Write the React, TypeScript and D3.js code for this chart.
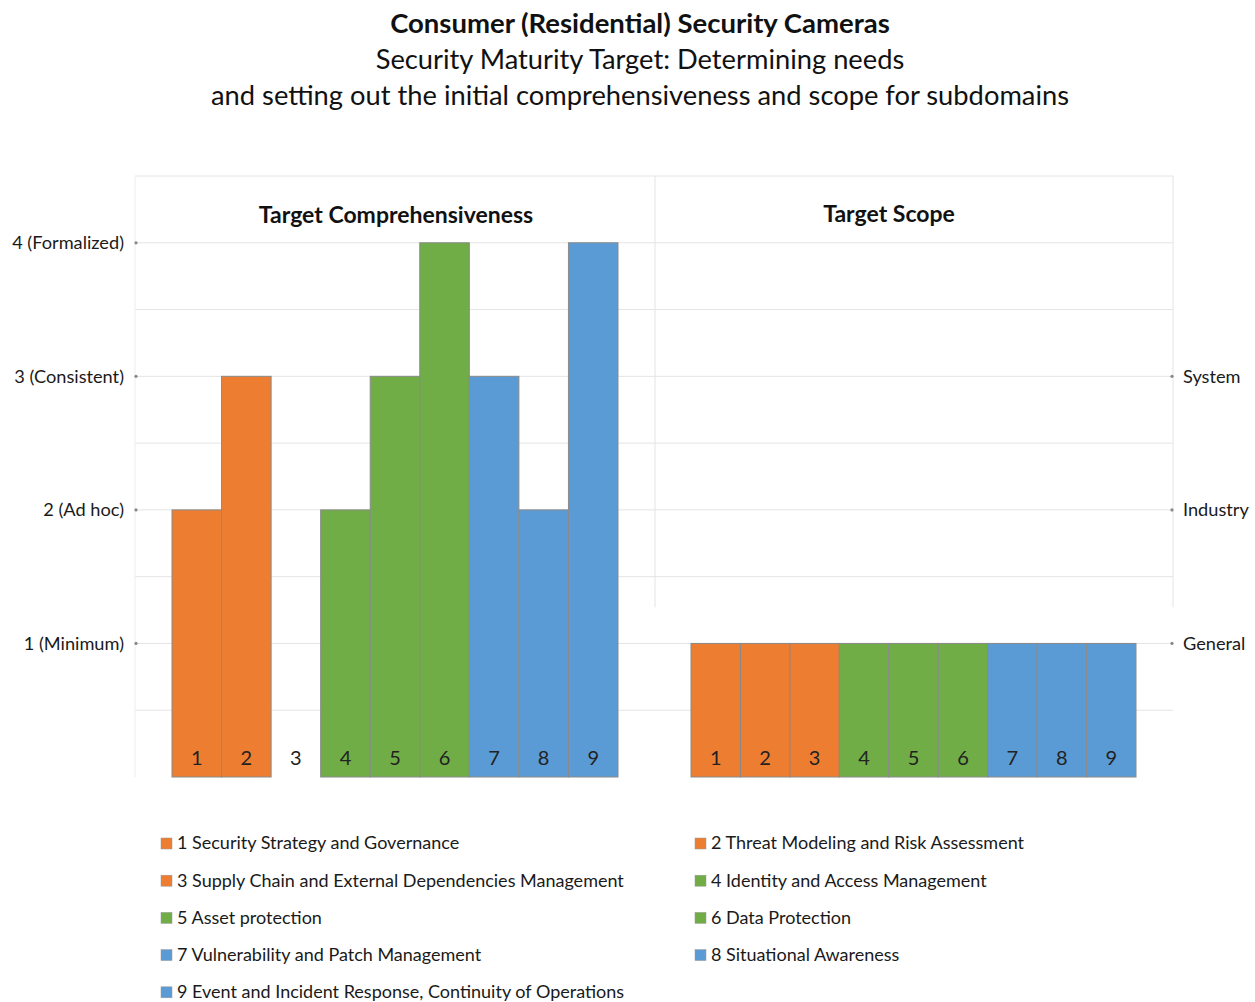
import React, { useEffect } from 'react';
import * as d3 from 'd3';

const subdomains = ['1', '2', '3', '4', '5', '6', '7', '8', '9'];
const subdomainNames = [
  '1 Security Strategy and Governance',
  '2 Threat Modeling and Risk Assessment',
  '3 Supply Chain and External Dependencies Management',
  '4 Identity and Access Management',
  '5 Asset protection',
  '6 Data Protection',
  '7 Vulnerability and Patch Management',
  '8 Situational Awareness',
  '9 Event and Incident Response, Continuity of Operations',
];
const comprehensiveness = [2, 3, 0, 2, 3, 4, 3, 2, 4];
const scope = [1, 1, 1, 1, 1, 1, 1, 1, 1];
const comprehensivenessLevels = ['1 (Minimum)', '2 (Ad hoc)', '3 (Consistent)', '4 (Formalized)'];
const scopeLevels = ['General', 'Industry', 'System'];
const gridSteps = [0.5, 1, 1.5, 2, 2.5, 3, 3.5, 4, 4.5];

const FONT = 'Lato, "Open Sans", sans-serif';
const ORANGE = '#ED7D31';
const GREEN = '#70AD47';
const BLUE = '#5B9BD5';

const colorFor = (i: number) => (i < 3 ? ORANGE : i < 6 ? GREEN : BLUE);

export default function App() {
  useEffect(() => {
    document.body.style.margin = '0';
  }, []);

  const width = 1255;
  const height = 1002;
  const y = d3.scaleLinear().domain([0, 4.5]).range([777, 176]);
  const xLeft = d3.scaleBand<string>().domain(subdomains).range([172, 618]);
  const xRight = d3.scaleBand<string>().domain(subdomains).range([691, 1136]);

  const panelLeft = { x0: 135, x1: 655 };
  const panelRight = { x0: 655, x1: 1173 };

  return (
    <svg width={width} height={height} style={{ display: 'block', background: '#fff' }} fontFamily={FONT}>
      {/* titles */}
      <text x={640} y={33} textAnchor="middle" fontSize={27.5} fontWeight="bold" fill="#111">
        Consumer (Residential) Security Cameras
      </text>
      <text x={640} y={69} textAnchor="middle" fontSize={27.3} fill="#111">
        Security Maturity Target: Determining needs
      </text>
      <text x={640} y={105} textAnchor="middle" fontSize={27.3} fill="#111">
        and setting out the initial comprehensiveness and scope for subdomains
      </text>

      {/* gridlines */}
      {gridSteps.map(v => (
        <line key={v} x1={panelLeft.x0} x2={panelRight.x1} y1={y(v)} y2={y(v)} stroke="#e4e4e4" strokeWidth={1} />
      ))}
      <line x1={panelLeft.x0} x2={panelLeft.x0} y1={y(4.5)} y2={y(0)} stroke="#eeeeee" />
      <line x1={panelRight.x0} x2={panelRight.x0} y1={y(4.5)} y2={y(1.27)} stroke="#e4e4e4" />
      <line x1={panelRight.x1} x2={panelRight.x1} y1={y(4.5)} y2={y(1.27)} stroke="#e4e4e4" />

      {/* panel titles */}
      <text x={396} y={223} textAnchor="middle" fontSize={23} fontWeight="bold" fill="#111">
        Target Comprehensiveness
      </text>
      <text x={889} y={222} textAnchor="middle" fontSize={23} fontWeight="bold" fill="#111">
        Target Scope
      </text>

      {/* left axis */}
      {comprehensivenessLevels.map((label, i) => (
        <g key={label}>
          <circle cx={136} cy={y(i + 1)} r={1.6} fill="#888" />
          <text x={124} y={y(i + 1)} dy="0.35em" textAnchor="end" fontSize={18.2} fill="#1a1a1a">
            {label}
          </text>
        </g>
      ))}

      {/* right axis */}
      {scopeLevels.map((label, i) => (
        <g key={label}>
          <circle cx={1172} cy={y(i + 1)} r={1.6} fill="#888" />
          <text x={1183} y={y(i + 1)} dy="0.35em" textAnchor="start" fontSize={18.2} fill="#1a1a1a">
            {label}
          </text>
        </g>
      ))}

      {/* comprehensiveness bars */}
      {comprehensiveness.map((v, i) => (
        <g key={'c' + i}>
          {v > 0 && (
            <rect
              x={xLeft(subdomains[i])!}
              y={y(v)}
              width={xLeft.bandwidth()}
              height={y(0) - y(v)}
              fill={colorFor(i)}
              stroke="#8a8a8a"
              strokeWidth={1}
            />
          )}
          <text
            x={xLeft(subdomains[i])! + xLeft.bandwidth() / 2}
            y={y(0) - 19}
            dy="0.35em"
            textAnchor="middle"
            fontSize={20}
            fill="#222"
          >
            {subdomains[i]}
          </text>
        </g>
      ))}

      {/* scope bars */}
      {scope.map((v, i) => (
        <g key={'s' + i}>
          <rect
            x={xRight(subdomains[i])!}
            y={y(v)}
            width={xRight.bandwidth()}
            height={y(0) - y(v)}
            fill={colorFor(i)}
            stroke="#8a8a8a"
            strokeWidth={1}
          />
          <text
            x={xRight(subdomains[i])! + xRight.bandwidth() / 2}
            y={y(0) - 19}
            dy="0.35em"
            textAnchor="middle"
            fontSize={20}
            fill="#222"
          >
            {subdomains[i]}
          </text>
        </g>
      ))}

      {/* legend */}
      {subdomainNames.map((name, i) => {
        const col = i % 2;
        const row = Math.floor(i / 2);
        const lx = col === 0 ? 161 : 695;
        const ly = 843 + row * 37.2;
        return (
          <g key={name}>
            <rect x={lx} y={ly - 5} width={11} height={11} fill={colorFor(i)} stroke="#999" strokeWidth={0.5} />
            <text x={lx + 16} y={ly} dy="0.35em" fontSize={18} fill="#1a1a1a">
              {name}
            </text>
          </g>
        );
      })}
    </svg>
  );
}
